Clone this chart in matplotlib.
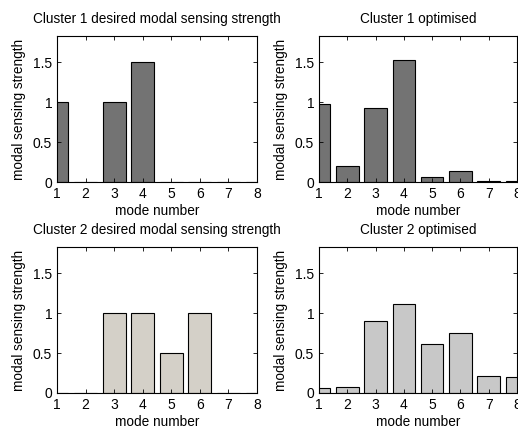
import numpy as np
import matplotlib
matplotlib.use("Agg")
import matplotlib.pyplot as plt

plt.rcParams['font.family'] = ['Liberation Sans', 'DejaVu Sans']

modes = [1, 2, 3, 4, 5, 6, 7, 8]
cluster1_desired = [1.0, 0.0, 1.0, 1.5, 0.0, 0.0, 0.0, 0.0]
cluster1_optimised = [0.98, 0.20, 0.93, 1.53, 0.06, 0.14, 0.01, 0.01]
cluster2_desired = [0.0, 0.0, 1.0, 1.0, 0.5, 1.0, 0.0, 0.0]
cluster2_optimised = [0.06, 0.07, 0.90, 1.12, 0.61, 0.75, 0.21, 0.20]

yticks = [0, 0.5, 1, 1.5]
ytick_labels = ["0", "0.5", "1", "1.5"]

W, H = 518, 429
fig = plt.figure(figsize=(W / 100, H / 100), dpi=100)

def px_axes(x0, y0, x1, y1):
    return fig.add_axes([x0 / W, 1 - y1 / H, (x1 - x0) / W, (y1 - y0) / H])

panels = [
    ((57, 36, 257, 182), cluster1_desired, "#737373", "Cluster 1 desired modal sensing strength"),
    ((319, 36, 517, 182), cluster1_optimised, "#737373", "Cluster 1 optimised"),
    ((57, 247, 257, 393), cluster2_desired, "#d4d0c8", "Cluster 2 desired modal sensing strength"),
    ((319, 247, 517, 393), cluster2_optimised, "#c8c8c8", "Cluster 2 optimised"),
]

fs = 9.8
tfs = 10
for box, values, color, title in panels:
    ax = px_axes(*box)
    ax.bar(modes, values, width=0.8, color=color, edgecolor="black", linewidth=0.8)
    ax.set_xlim(1, 8)
    ax.set_ylim(0, 1.83)
    ax.set_xticks(modes)
    ax.set_xticklabels([str(m) for m in modes], fontsize=tfs)
    ax.set_yticks(yticks)
    ax.set_yticklabels(ytick_labels, fontsize=tfs)
    ax.tick_params(direction="in", top=True, right=True, length=3, width=0.6, pad=3.5)
    for s in ax.spines.values():
        s.set_linewidth(0.8)
    ax.set_title(title, fontsize=fs, pad=9)
    ax.set_xlabel("mode number", fontsize=fs, labelpad=2.5)
    ax.set_ylabel("modal sensing strength", fontsize=fs, labelpad=5)

fig.savefig("out.png", dpi=100)
